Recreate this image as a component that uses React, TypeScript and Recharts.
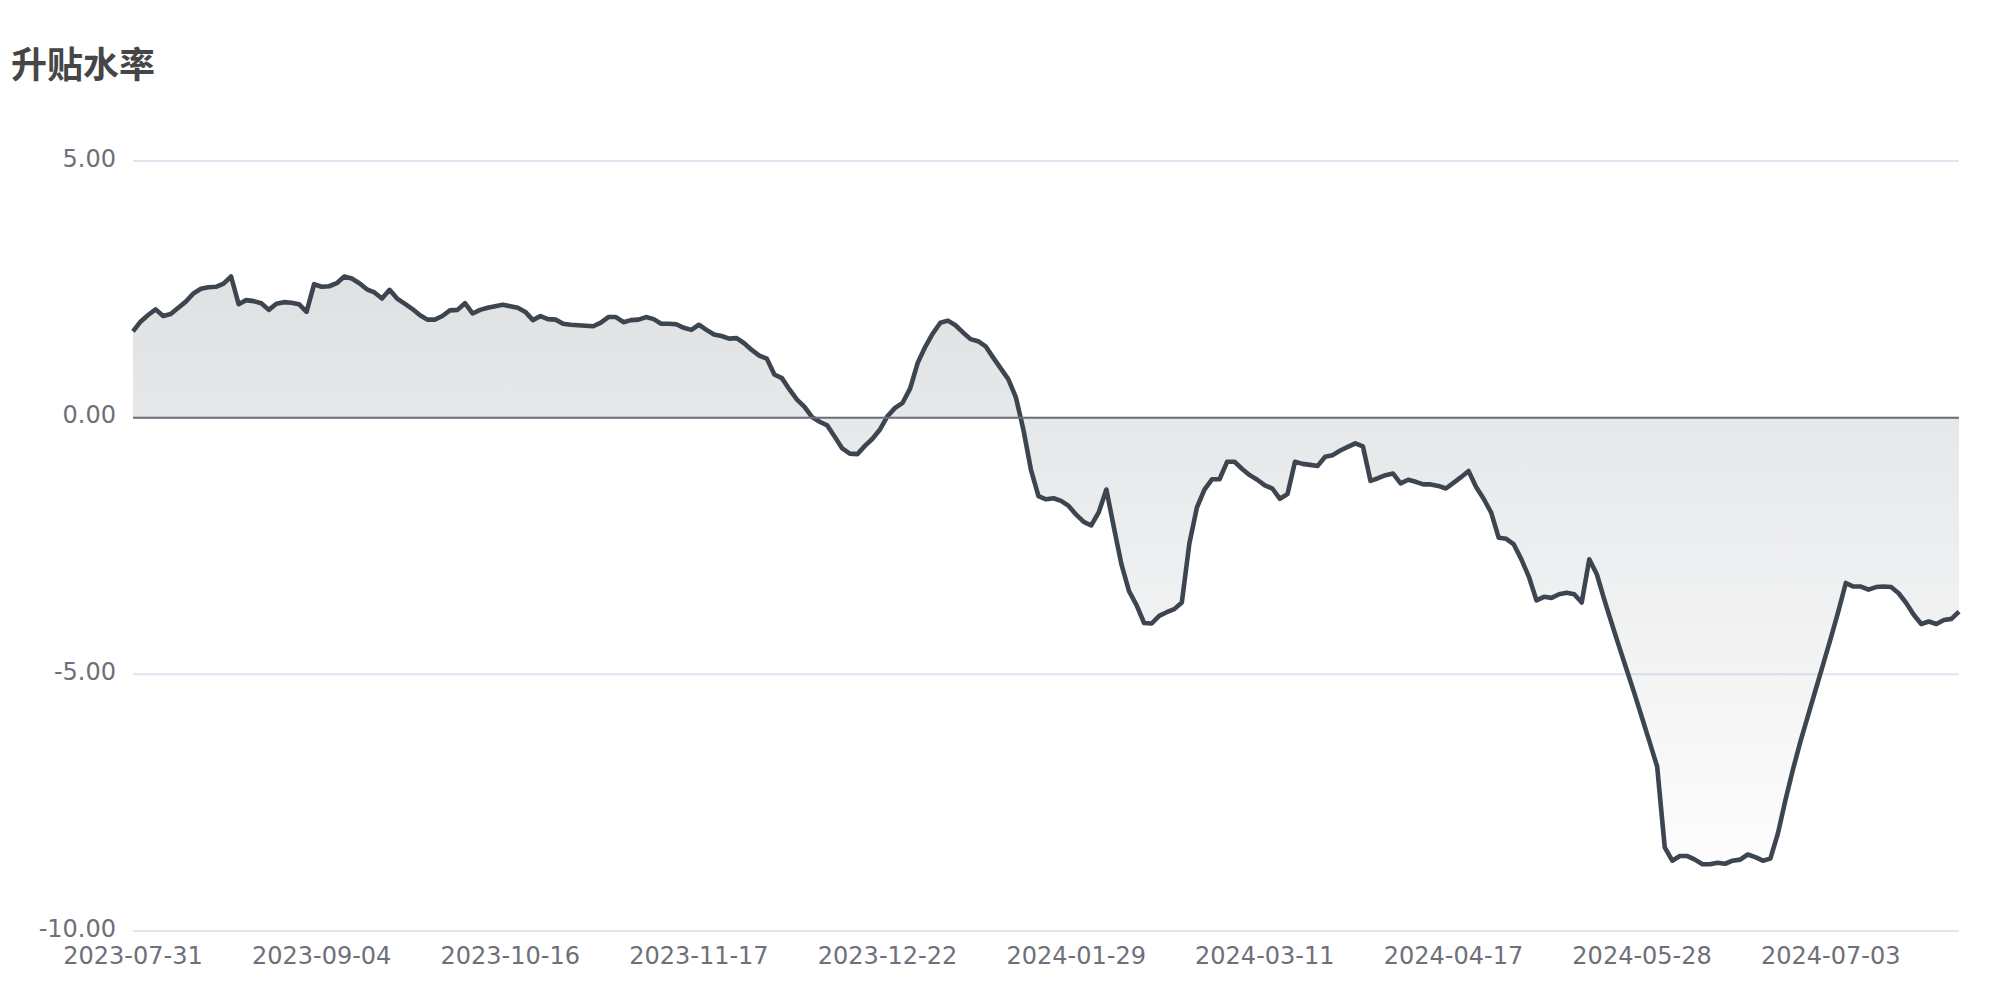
import { Area, AreaChart, CartesianGrid, ReferenceLine, XAxis, YAxis } from 'recharts';

const title = '升贴水率';

// x-axis labels, one every 25 trading days
const dateLabels = [
  '2023-07-31', '2023-09-04', '2023-10-16', '2023-11-17', '2023-12-22',
  '2024-01-29', '2024-03-11', '2024-04-17', '2024-05-28', '2024-07-03',
];
const labelStep = 25;

const yTicks = [-10, -5, 0, 5];

// basis rate (%) per trading day
const basisRate = [
  1.68, 1.87, 2.0, 2.11, 1.98, 2.02, 2.14, 2.26, 2.42, 2.51,
  2.54, 2.55, 2.61, 2.75, 2.21, 2.29, 2.27, 2.23, 2.1, 2.22,
  2.25, 2.24, 2.21, 2.06, 2.6, 2.55, 2.56, 2.62, 2.75, 2.71,
  2.62, 2.5, 2.44, 2.32, 2.49, 2.32, 2.22, 2.12, 2.0, 1.91,
  1.91, 1.98, 2.09, 2.1, 2.23, 2.03, 2.1, 2.14, 2.17, 2.2,
  2.17, 2.14, 2.06, 1.9, 1.98, 1.92, 1.91, 1.83, 1.81, 1.8,
  1.79, 1.78, 1.85, 1.96, 1.96, 1.86, 1.9, 1.91, 1.96, 1.92,
  1.83, 1.83, 1.82, 1.75, 1.71, 1.81, 1.71, 1.62, 1.59, 1.54,
  1.55, 1.45, 1.32, 1.21, 1.15, 0.84, 0.77, 0.55, 0.35, 0.21,
  0.01, -0.08, -0.15, -0.37, -0.6, -0.7, -0.71, -0.55, -0.41, -0.23,
  0.03, 0.19, 0.29, 0.57, 1.07, 1.38, 1.64, 1.85, 1.89, 1.8,
  1.66, 1.53, 1.49, 1.39, 1.17, 0.96, 0.75, 0.4, -0.23, -1.01,
  -1.53, -1.59, -1.57, -1.62, -1.72, -1.89, -2.03, -2.1, -1.84, -1.4,
  -2.14, -2.86, -3.38, -3.65, -4.0, -4.01, -3.86, -3.79, -3.73, -3.6,
  -2.45, -1.75, -1.4, -1.2, -1.2, -0.86, -0.86, -1.0, -1.12, -1.21,
  -1.32, -1.38, -1.58, -1.49, -0.86, -0.9, -0.92, -0.94, -0.76, -0.73,
  -0.64, -0.57, -0.5, -0.56, -1.23, -1.18, -1.12, -1.09, -1.28, -1.21,
  -1.25, -1.3, -1.3, -1.33, -1.38, -1.27, -1.16, -1.04, -1.35, -1.58,
  -1.85, -2.34, -2.36, -2.47, -2.76, -3.1, -3.56, -3.49, -3.51, -3.44,
  -3.41, -3.44, -3.6, -2.76, -3.05, -3.55, -4.02, -4.48, -4.93, -5.38,
  -5.85, -6.32, -6.8, -8.37, -8.63, -8.54, -8.54, -8.61, -8.7, -8.7,
  -8.67, -8.69, -8.63, -8.61, -8.51, -8.56, -8.63, -8.59, -8.1, -7.45,
  -6.85, -6.3, -5.8, -5.3, -4.8, -4.3, -3.78, -3.22, -3.29, -3.29,
  -3.35, -3.3, -3.29, -3.3, -3.42, -3.61, -3.84, -4.02, -3.97, -4.02,
  -3.94, -3.92, -3.78,
];

const LINE = '#3c4550';
const TEXT = '#6e7079';
const FONT = '"DejaVu Sans", "Noto Sans CJK SC", sans-serif';

export default function App() {
  const data = basisRate.map((v, i) => ({ i, v }));
  const xTicks = dateLabels.map((_, k) => k * labelStep);

  return (
    <div style={{ position: 'absolute', left: 0, top: 0, width: 2000, height: 1000, background: '#fff' }}>
      <svg width={2000} height={100} style={{ position: 'absolute', left: 0, top: 0 }}>
        <text x={11} y={78} fontSize={36} fontWeight="bold" fill="#464646" fontFamily={FONT}>
          {title}
        </text>
      </svg>
      <AreaChart
        width={2000}
        height={1000}
        data={data}
        margin={{ top: 161, right: 41, left: 0, bottom: 0 }}
        style={{ position: 'absolute', left: 0, top: 0 }}
      >
        <defs>
          <linearGradient id="basisFill" x1="0" y1="0" x2="0" y2="1">
            <stop offset="0%" stopColor={LINE} stopOpacity={0.27} />
            <stop offset="100%" stopColor={LINE} stopOpacity={0.02} />
          </linearGradient>
        </defs>
        <CartesianGrid vertical={false} stroke="#e0e6f1" strokeWidth={2} />
        <XAxis
          dataKey="i"
          type="number"
          domain={[0, basisRate.length - 1]}
          ticks={xTicks}
          interval={0}
          tickFormatter={(i: number) => dateLabels[i / labelStep] ?? ''}
          axisLine={false}
          tickLine={false}
          tickSize={0}
          tickMargin={16}
          height={69}
          tick={{ fill: TEXT, fontSize: 24, fontFamily: FONT }}
        />
        <YAxis
          type="number"
          domain={[-10, 5]}
          ticks={yTicks}
          interval={0}
          tickFormatter={(v: number) => v.toFixed(2)}
          axisLine={false}
          tickLine={false}
          tickSize={0}
          tickMargin={17}
          width={133}
          tick={{ fill: TEXT, fontSize: 24, fontFamily: FONT, dy: -3 }}
        />
        <ReferenceLine y={0} stroke={TEXT} strokeWidth={2} />
        <Area
          type="linear"
          dataKey="v"
          baseValue={0}
          stroke={LINE}
          strokeWidth={4.6}
          strokeLinejoin="round"
          fill="url(#basisFill)"
          dot={false}
          activeDot={false}
          isAnimationActive={false}
        />
      </AreaChart>
    </div>
  );
}
